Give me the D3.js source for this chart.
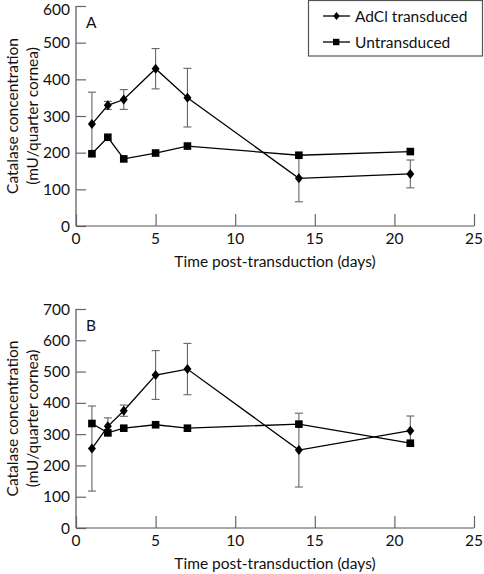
<!DOCTYPE html>
<html><head><meta charset="utf-8">
<script src="https://cdn.jsdelivr.net/npm/d3@7"></script>
<style>body{margin:0;background:#fff}svg{display:block}text{font-family:"Lato","Open Sans",sans-serif;fill:#111}</style>
</head><body>
<svg id="c" width="484" height="574"></svg>
<script>
const days = [1, 2, 3, 5, 7, 14, 21];
const xTicks = [0, 5, 10, 15, 20, 25];
const seriesNames = ["AdCl transduced", "Untransduced"];
// Panel A
const aAdCl = [278, 329, 345, 429, 350, 130, 142];
const aAdClErr = [87, 11, 27, 55, 80, 64, 38];
const aUntr = [197, 242, 183, 199, 218, 193, 203];
const aYTicks = [0, 100, 200, 300, 400, 500, 600];
// Panel B
const bAdCl = [254, 325, 375, 489, 508, 249, 311];
const bAdClErr = [136, 27, 18, 78, 82, 118, 47];
const bUntr = [334, 304, 319, 330, 319, 332, 271];
const bYTicks = [0, 100, 200, 300, 400, 500, 600, 700];

const svg = d3.select("#c");
const diamond = (s) => `M0,${-s}L${s*0.8},0L0,${s}L${-s*0.8},0Z`;

function panel(label, top, bottom, yTicks, adcl, err, untr) {
  const x = d3.scaleLinear().domain([0, 25]).range([76, 474]);
  const y = d3.scaleLinear().domain([0, d3.max(yTicks)]).range([bottom, top]);
  const g = svg.append("g");
  const ya = g.append("g").attr("transform", `translate(76,0)`)
    .call(d3.axisRight(y).tickValues(yTicks).tickSize(10).tickFormat(""));
  const xa = g.append("g").attr("transform", `translate(0,${bottom})`)
    .call(d3.axisTop(x).tickValues(xTicks).tickSize(12).tickFormat(""));
  [ya, xa].forEach(a => { a.selectAll("path").attr("stroke", "#555").attr("stroke-width", 1.2);
    a.selectAll("line").attr("stroke", "#666").attr("stroke-width", 1.2); });
  ya.select("path").attr("d", `M0,${top}V${bottom}`);
  xa.select("path").attr("d", `M76,0H474`);
  yTicks.forEach(v => g.append("text").attr("x", 70).attr("y", Math.max(y(v) + 5.5, 15))
    .attr("text-anchor", "end").attr("font-size", 15.5).text(v));
  xTicks.forEach(v => g.append("text").attr("x", x(v)).attr("y", bottom + 18)
    .attr("text-anchor", "middle").attr("font-size", 15.5).text(v));
  g.append("text").attr("x", 275).attr("y", bottom + 41).attr("text-anchor", "middle")
    .attr("font-size", 15.5).text("Time post-transduction (days)");
  const cy = (top + bottom) / 2;
  g.append("text").attr("transform", `translate(18,${cy}) rotate(-90)`).attr("text-anchor", "middle")
    .attr("font-size", 15.5).text("Catalase concentration");
  g.append("text").attr("transform", `translate(38,${cy}) rotate(-90)`).attr("text-anchor", "middle")
    .attr("font-size", 15.5).text("(mU/quarter cornea)");
  g.append("text").attr("x", 86).attr("y", top + 22).attr("font-size", 15.5).text(label);
  const eb = g.append("g").attr("stroke", "#666").attr("stroke-width", 1.1);
  days.forEach((d, i) => {
    const xx = x(d), y1 = y(adcl[i] + err[i]), y2 = y(adcl[i] - err[i]);
    eb.append("line").attr("x1", xx).attr("x2", xx).attr("y1", y1).attr("y2", y2);
    eb.append("line").attr("x1", xx - 4).attr("x2", xx + 4).attr("y1", y1).attr("y2", y1);
    eb.append("line").attr("x1", xx - 4).attr("x2", xx + 4).attr("y1", y2).attr("y2", y2);
  });
  const line = d3.line().x((d, i) => x(days[i])).y(d => y(d));
  g.append("path").datum(adcl).attr("d", line).attr("fill", "none").attr("stroke", "#000").attr("stroke-width", 1.3);
  g.append("path").datum(untr).attr("d", line).attr("fill", "none").attr("stroke", "#000").attr("stroke-width", 1.3);
  g.selectAll(null).data(untr).enter().append("rect")
    .attr("x", (d, i) => x(days[i]) - 3.8).attr("y", d => y(d) - 3.8).attr("width", 7.6).attr("height", 7.6).attr("fill", "#000");
  g.selectAll(null).data(adcl).enter().append("path")
    .attr("transform", (d, i) => `translate(${x(days[i])},${y(d)})`).attr("d", diamond(5)).attr("fill", "#000");
}

panel("A", 6, 226, aYTicks, aAdCl, aAdClErr, aUntr);
panel("B", 309, 528, bYTicks, bAdCl, bAdClErr, bUntr);

const lg = svg.append("g");
lg.append("rect").attr("x", 308.5).attr("y", 0.5).attr("width", 174).attr("height", 55.5)
  .attr("fill", "#fff").attr("stroke", "#555").attr("stroke-width", 1.2);
seriesNames.forEach((n, i) => {
  const yy = i === 0 ? 16 : 42;
  lg.append("line").attr("x1", 323).attr("x2", 350).attr("y1", yy).attr("y2", yy).attr("stroke", "#000").attr("stroke-width", 1.3);
  if (i === 0) lg.append("path").attr("transform", `translate(336.5,${yy})`).attr("d", diamond(4)).attr("fill", "#000");
  else lg.append("rect").attr("x", 333).attr("y", yy - 3.2).attr("width", 6.4).attr("height", 6.4).attr("fill", "#000");
  lg.append("text").attr("x", 355).attr("y", yy + 5.5).attr("font-size", 15.5).text(n);
});
</script></body></html>
